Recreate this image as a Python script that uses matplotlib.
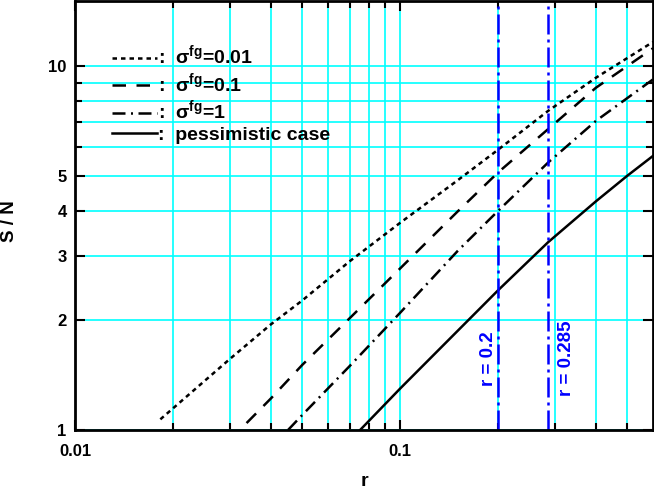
import numpy as np
import matplotlib
matplotlib.use("Agg")
import matplotlib.pyplot as plt
from matplotlib.ticker import FixedLocator, NullFormatter, FixedFormatter

plt.rcParams['font.family'] = ['Liberation Sans', 'DejaVu Sans']
plt.rcParams['font.weight'] = 'bold'
plt.rcParams['mathtext.fontset'] = 'custom'
plt.rcParams['mathtext.rm'] = 'Liberation Sans'
plt.rcParams['mathtext.bf'] = 'Liberation Sans:bold'

# S/N curves
r_fg001 = [0.0183, 0.03, 0.04, 0.05, 0.07, 0.1, 0.15, 0.2, 0.285, 0.4, 0.6]
sn_fg001 = [1.07, 1.57, 1.95, 2.27, 2.91, 3.71, 4.85, 5.89, 7.53, 9.29, 11.66]

r_fg01 = [0.0337, 0.04, 0.05, 0.07, 0.1, 0.15, 0.2, 0.285, 0.4, 0.6]
sn_fg01 = [1.045, 1.22, 1.51, 2.03, 2.78, 3.98, 5.10, 6.71, 8.72, 11.2]

r_fg1 = [0.0452, 0.05, 0.07, 0.1, 0.15, 0.2, 0.285, 0.4, 0.6]
sn_fg1 = [1.0, 1.10, 1.50, 2.10, 3.10, 4.0, 5.43, 7.07, 9.2]

r_pess = [0.0753, 0.1, 0.15, 0.2, 0.285, 0.4, 0.5, 0.6]
sn_pess = [1.0, 1.30, 1.87, 2.42, 3.28, 4.25, 5.0, 5.67]

r_marks = [0.2, 0.285]
mark_labels = ['r = 0.2', 'r = 0.285']

y_major = [1, 2, 3, 4, 5, 10]
y_minor = [6, 7, 8, 9]

fig = plt.figure(figsize=(6.54, 4.9), dpi=100)
ax = fig.add_axes([0.1147, 0.1224, 0.884, 0.8756])
ax.set_xscale('log')
ax.set_yscale('log')
ax.set_xlim(0.01, 0.6)
ax.set_ylim(1, 15.1)

ax.yaxis.set_major_locator(FixedLocator(y_major))
ax.yaxis.set_major_formatter(FixedFormatter([str(v) for v in y_major]))
ax.yaxis.set_minor_locator(FixedLocator(y_minor))
ax.yaxis.set_minor_formatter(NullFormatter())
ax.xaxis.set_major_locator(FixedLocator([0.01, 0.1]))
ax.xaxis.set_major_formatter(FixedFormatter(['0.01', '0.1']))
ax.xaxis.set_minor_locator(FixedLocator([0.02, 0.03, 0.04, 0.05, 0.06, 0.07, 0.08, 0.09,
                                         0.2, 0.3, 0.4, 0.5]))
ax.xaxis.set_minor_formatter(NullFormatter())

ax.grid(True, which='both', color='#00ffff', lw=1.2, zorder=0)
ax.set_axisbelow(True)

ax.tick_params(which='both', direction='in', top=True, right=True, width=1.5,
               labelsize=12, pad=6)
ax.tick_params(axis='x', which='both', pad=10)
ax.tick_params(which='major', length=7)
ax.tick_params(which='minor', length=5)
for s in ax.spines.values():
    s.set_linewidth(2)

lw = 1.8
ax.plot(r_fg001, sn_fg001, color='black', lw=lw, dashes=(1.8, 1.6),
        label=':  σ$^{\\mathbf{fg}}$=0.01')
ax.plot(r_fg01, sn_fg01, color='black', lw=lw, dashes=(5.4, 4.2),
        label=':  σ$^{\\mathbf{fg}}$=0.1')
ax.plot(r_fg1, sn_fg1, color='black', lw=lw, dashes=(5.2, 2.2, 0.8, 2.2),
        label=':  σ$^{\\mathbf{fg}}$=1')
ax.plot(r_pess, sn_pess, color='black', lw=lw, label=':  pessimistic case')

for xv in r_marks:
    ax.axvline(xv, color='blue', lw=1.8, dashes=(8, 2, 1.2, 2))

ax.text(0.187, 1.57, mark_labels[0], rotation=90, color='blue', fontsize=13.5,
        fontweight='bold', ha='center', va='center')
ax.text(0.325, 1.57, mark_labels[1], rotation=90, color='blue', fontsize=13.5,
        fontweight='bold', ha='center', va='center')

ax.set_xlabel('r', fontsize=14, fontweight='bold', labelpad=10)
ax.set_ylabel('S / N', fontsize=13.5, fontweight='bold')
ax.yaxis.set_label_coords(-0.099, 0.486)

ax.legend(loc='upper left', bbox_to_anchor=(0.064, 0.9), frameon=False,
          borderpad=0, borderaxespad=0, handlelength=2.3, handletextpad=0.05,
          labelspacing=0.15, fontsize=14)

fig.savefig('out.png', dpi=100)
